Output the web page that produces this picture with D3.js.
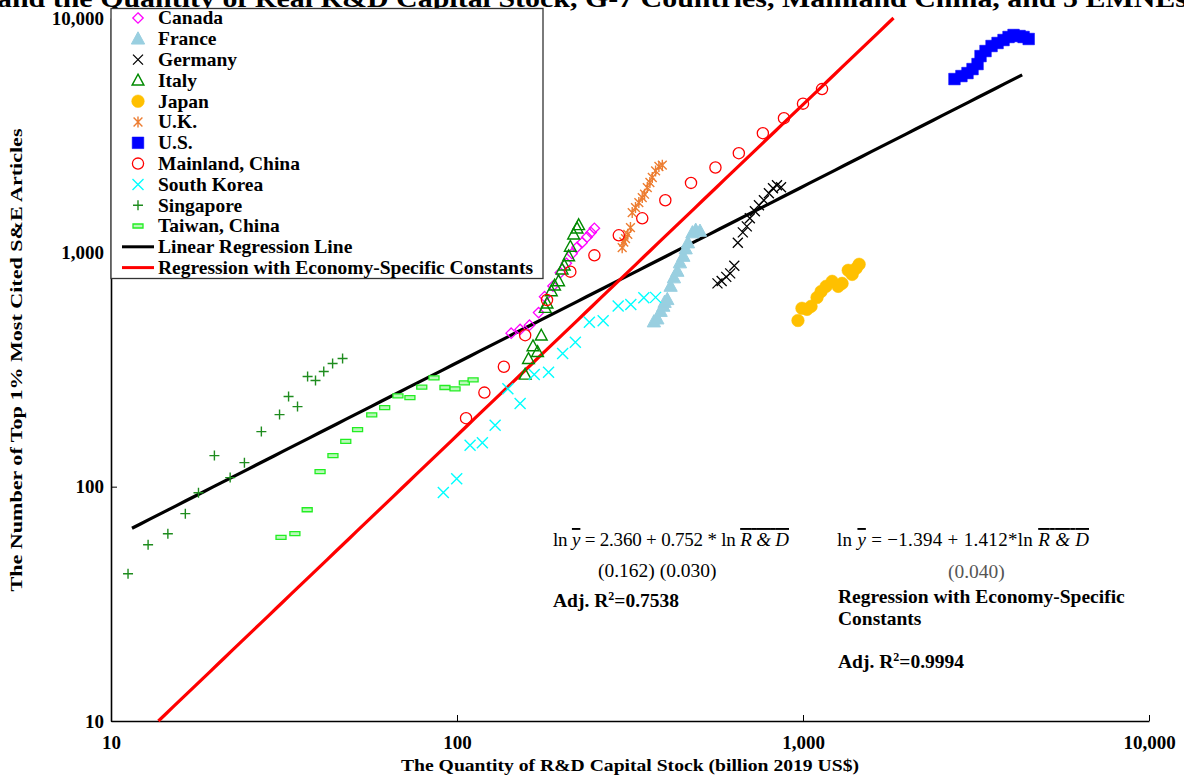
<!DOCTYPE html>
<html>
<head>
<meta charset="utf-8">
<script src="https://cdn.jsdelivr.net/npm/d3@7"></script>
<style>
  html, body { margin: 0; padding: 0; background: #fff; }
  svg { display: block; }
  text { font-family: "Liberation Serif", "Times New Roman", serif; }
</style>
</head>
<body>
<svg id="chart" width="1184" height="776"></svg>
<script>
// ---- data (R&D capital stock in billion 2019 US$, top 1% cited articles) ----
const canadaX = [143.4, 152.2, 162, 172.1, 179.1, 189.4, 198.9, 207, 215, 222.3, 229.8, 237.7, 244.1, 249.5];
const canadaY = [452, 469, 489, 553, 647, 718, 819, 898, 987, 1051, 1100, 1163, 1214, 1266];

const franceX = [370.7, 379.3, 387.7, 394.8, 398.1, 405.3, 414.3, 423.6, 433.3, 440.9, 451, 458, 465, 479, 489.7, 503.8];
const franceY = [506, 521, 561, 590, 613, 630, 718, 780, 832, 904, 964, 1037, 1100, 1214, 1245, 1233];

const germanyX = [566, 582, 600, 616, 633, 648, 670, 688, 702, 726, 746, 771, 797, 819, 841, 864];
const germanyY = [737, 754, 786, 813, 876, 1098, 1217, 1291, 1397, 1497, 1588, 1668, 1787, 1877, 1933, 1895];

const italyX = [157.4, 160.9, 165.8, 170.9, 175.2, 179.9, 182, 187.3, 191.4, 196.6, 201.2, 204.2, 210.2, 212.6, 217.3, 222.3, 224.7];
const italyY = [301, 351, 398, 376, 442, 580, 606, 683, 723, 754, 846, 880, 964, 1058, 1194, 1266, 1308];

const japanX = [967, 993, 1027, 1055, 1098, 1128, 1166, 1214, 1264, 1297, 1351, 1387, 1424, 1453];
const japanY = [512, 577, 571, 588, 642, 681, 716, 752, 716, 737, 838, 805, 854, 889];

const ukX = [300.2, 303.4, 306.9, 311.6, 317.2, 320.9, 328, 335.4, 343.1, 348.4, 354.8, 361, 366.8, 374.9, 383.3, 392.1];
const ukY = [1047, 1107, 1144, 1194, 1275, 1478, 1552, 1631, 1713, 1770, 1890, 1986, 2086, 2226, 2324, 2354];

const usX = [2740, 2870, 2988, 3090, 3195, 3259, 3369, 3507, 3650, 3798, 3927, 4060, 4226, 4340, 4490];
const usY = [5488, 5652, 5821, 6054, 6360, 6879, 7228, 7594, 7823, 8054, 8296, 8461, 8375, 8296, 8136];

const chinaX = [106.2, 120, 136.6, 157.4, 182, 212.6, 249.5, 293.5, 343.1, 400, 474.6, 558.4, 652.4, 765.6, 881, 1000, 1135];
const chinaY = [196, 252, 325, 443, 626, 827, 971, 1182, 1397, 1668, 1978, 2301, 2649, 3224, 3738, 4311, 4973];

const koreaX = [91.3, 99.8, 109.1, 118.4, 128.9, 140.3, 152.2, 167.2, 183.9, 202, 219.8, 241.3, 264.5, 292.3, 317.9, 346.7, 374.9];
const koreaY = [94.5, 108.2, 150.2, 153.8, 182.8, 261.6, 226.3, 301, 307.9, 370.2, 413.8, 503.6, 510.6, 589.6, 599.6, 640.5, 642.4];

const singaporeX = [11.2, 12.8, 14.6, 16.4, 17.9, 19.9, 22.1, 24.3, 27.2, 30.7, 32.6, 34.6, 37.0, 39.0, 41.2, 43.7, 46.7];
const singaporeY = [42.5, 56.5, 63.0, 76.7, 94.2, 135.7, 109.3, 126.6, 171.8, 203, 242.5, 219.6, 295, 283.8, 310, 335.5, 352.4];

const taiwanX = [31.0, 34.0, 36.9, 40.2, 43.8, 47.7, 51.6, 56.7, 61.8, 67.5, 73.1, 79.1, 85.8, 92.3, 98.7, 105, 111.3];
const taiwanY = [60.8, 63.0, 79.7, 115.9, 135.7, 156.2, 175.2, 202.5, 217.6, 244.2, 239.9, 265.7, 291.4, 264.9, 261.6, 277.4, 285.8];

// regression coefficients (ln y = a + b * ln R&D)
const linearFit = [2.360, 0.752];
const linearFitRange = [11.5, 4300];
const specificFit = [-1.394, 1.412];

const axisTicks = [10, 100, 1000, 10000];

const titleText = "and the Quantity of Real R&D Capital Stock, G-7 Countries, Mainland China, and 5 EMNEs";
const xTitle = "The Quantity of R&D Capital Stock (billion 2019 US$)";
const yTitle = "The Number of Top 1% Most Cited S&E Articles";

// ---- marker shapes ----
const shapes = {
  diamond: s => `M0,${-s}L${s},0L0,${s}L${-s},0Z`,
  triangle: s => `M0,${-s}L${s * 0.95},${s * 0.75}L${-s * 0.95},${s * 0.75}Z`,
  cross: s => `M${-s},${-s}L${s},${s}M${-s},${s}L${s},${-s}`,
  plus: s => `M${-s},0L${s},0M0,${-s}L0,${s}`,
  asterisk: s => { const d = s * 0.8; return `M${-d},${-d}L${d},${d}M${-d},${d}L${d},${-d}M0,${-s}L0,${s}`; },
  square: s => `M${-s},${-s}H${s}V${s}H${-s}Z`,
  circle: s => `M${s},0A${s},${s} 0 1,1 ${-s},0A${s},${s} 0 1,1 ${s},0Z`,
  bar: s => `M${-s},${-s * 0.4}H${s}V${s * 0.4}H${-s}Z`
};

const series = [
  { name: "Canada", xs: canadaX, ys: canadaY, shape: "diamond", size: 5.2, fill: "none", stroke: "#ff00ff", sw: 1.3 },
  { name: "France", xs: franceX, ys: franceY, shape: "triangle", size: 7, fill: "#99cfe0", stroke: "#99cfe0", sw: 1 },
  { name: "Germany", xs: germanyX, ys: germanyY, shape: "cross", size: 5, fill: "none", stroke: "#000", sw: 1.3 },
  { name: "Italy", xs: italyX, ys: italyY, shape: "triangle", size: 6.2, fill: "none", stroke: "#008a00", sw: 1.4 },
  { name: "Japan", xs: japanX, ys: japanY, shape: "circle", size: 6.3, fill: "#ffc000", stroke: "#ffc000", sw: 0.5 },
  { name: "U.K.", xs: ukX, ys: ukY, shape: "asterisk", size: 5.5, fill: "none", stroke: "#ed7d31", sw: 1.4 },
  { name: "U.S.", xs: usX, ys: usY, shape: "square", size: 5.8, fill: "#0000ff", stroke: "#0000ff", sw: 0.5 },
  { name: "Mainland, China", xs: chinaX, ys: chinaY, shape: "circle", size: 5.6, fill: "none", stroke: "#ff0000", sw: 1.3 },
  { name: "South Korea", xs: koreaX, ys: koreaY, shape: "cross", size: 5.5, fill: "none", stroke: "#00ffff", sw: 1.4 },
  { name: "Singapore", xs: singaporeX, ys: singaporeY, shape: "plus", size: 5, fill: "none", stroke: "#1e8c1e", sw: 1.4 },
  { name: "Taiwan, China", xs: taiwanX, ys: taiwanY, shape: "bar", size: 5, fill: "#b9f7b9", stroke: "#22ee22", sw: 1.3 }
];

const svg = d3.select("#chart");
const x = d3.scaleLog().domain([10, 10000]).range([111, 1149]);
const y = d3.scaleLog().domain([10, 10000]).range([721, 18]);
const fmt = d3.format(",");
const FS = 19;
const LFS = 19.5;

// clipped title line above the plot
svg.append("text")
  .attr("x", 592).attr("y", 7)
  .attr("text-anchor", "middle")
  .attr("font-weight", "bold").attr("font-size", 25)
  .attr("textLength", 1190).attr("lengthAdjust", "spacingAndGlyphs")
  .text(titleText);

// axes
const xAxis = d3.axisBottom(x).tickValues(axisTicks).tickFormat(fmt).tickSizeInner(-6).tickSizeOuter(0).tickPadding(15);
const yAxis = d3.axisLeft(y).tickValues(axisTicks).tickFormat(fmt).tickSizeInner(-6).tickSizeOuter(0).tickPadding(7);

const gx = svg.append("g").attr("transform", `translate(0,${y(10)})`).call(xAxis);
const gy = svg.append("g").attr("transform", `translate(${x(10)},0)`).call(yAxis);
[gx, gy].forEach(g => {
  g.select(".domain").attr("stroke", "#000").attr("stroke-width", 1.6);
  g.selectAll(".tick line").attr("stroke", "#000").attr("stroke-width", 1);
  g.selectAll(".tick text")
    .attr("font-family", "Liberation Serif, serif")
    .attr("font-weight", "bold").attr("font-size", FS).attr("fill", "#000");
});
gx.selectAll(".tick text").attr("dy", "0.71em");

svg.append("text")
  .attr("x", 630).attr("y", 771)
  .attr("text-anchor", "middle")
  .attr("font-weight", "bold").attr("font-size", 17)
  .attr("textLength", 458).attr("lengthAdjust", "spacingAndGlyphs")
  .text(xTitle);

svg.append("text")
  .attr("transform", "translate(22,360) rotate(-90)")
  .attr("text-anchor", "middle")
  .attr("font-weight", "bold").attr("font-size", 17)
  .attr("textLength", 463).attr("lengthAdjust", "spacingAndGlyphs")
  .text(yTitle);

// regression lines
const fitLine = (coef, lo, hi) => {
  const pts = d3.range(0, 101).map(i => {
    const v = Math.exp(Math.log(lo) + (Math.log(hi) - Math.log(lo)) * i / 100);
    return [v, Math.exp(coef[0] + coef[1] * Math.log(v))];
  });
  return d3.line().x(d => x(d[0])).y(d => y(d[1]))(pts);
};
const specLo = Math.exp((Math.log(10) - specificFit[0]) / specificFit[1]);
const specHi = Math.exp((Math.log(10000) - specificFit[0]) / specificFit[1]);

svg.append("path").attr("d", fitLine(linearFit, linearFitRange[0], linearFitRange[1]))
  .attr("fill", "none").attr("stroke", "#000").attr("stroke-width", 3.2);
svg.append("path").attr("d", fitLine(specificFit, specLo, specHi))
  .attr("fill", "none").attr("stroke", "#ff0000").attr("stroke-width", 3.2);

// scatter markers
series.forEach(s => {
  svg.append("g").selectAll("path")
    .data(s.xs.map((v, i) => [v, s.ys[i]]))
    .join("path")
    .attr("transform", d => `translate(${x(d[0])},${y(d[1])})`)
    .attr("d", shapes[s.shape](s.size))
    .attr("fill", s.fill).attr("stroke", s.stroke).attr("stroke-width", s.sw);
});

// legend
const lg = svg.append("g");
lg.append("rect").attr("x", 111).attr("y", 8.5).attr("width", 432).attr("height", 270)
  .attr("fill", "#fff").attr("stroke", "#333").attr("stroke-width", 1.3);
const rowH = 20.8, row0 = 18;
series.forEach((s, i) => {
  const ry = row0 + i * rowH;
  lg.append("path").attr("transform", `translate(138,${ry})`)
    .attr("d", shapes[s.shape](s.size))
    .attr("fill", s.fill).attr("stroke", s.stroke).attr("stroke-width", s.sw);
  lg.append("text").attr("x", 158).attr("y", ry).attr("dy", "0.33em")
    .attr("font-weight", "bold").attr("font-size", LFS).text(s.name);
});
const lineRows = [["Linear Regression Line", "#000"], ["Regression with Economy-Specific Constants", "#ff0000"]];
lineRows.forEach((r, j) => {
  const ry = row0 + (series.length + j) * rowH;
  lg.append("line").attr("x1", 122).attr("x2", 154).attr("y1", ry).attr("y2", ry)
    .attr("stroke", r[1]).attr("stroke-width", 3);
  lg.append("text").attr("x", 158).attr("y", ry).attr("dy", "0.33em")
    .attr("font-weight", "bold").attr("font-size", LFS).text(r[0]);
});

// equation annotations
function equation(x0, y0, len, parts) {
  const t = svg.append("text").attr("x", x0).attr("y", y0).attr("font-size", 19)
    .attr("textLength", len).attr("lengthAdjust", "spacing");
  parts.forEach(p => {
    const ts = t.append("tspan").text(p.t);
    if (p.i) ts.attr("font-style", "italic");
    if (p.o) ts.style("text-decoration", "overline");
  });
  return t;
}
function adjR2(x0, y0, val) {
  const t = svg.append("text").attr("x", x0).attr("y", y0).attr("font-size", LFS).attr("font-weight", "bold");
  t.append("tspan").text("Adj. R");
  t.append("tspan").attr("font-size", 12).attr("dy", -7).text("2");
  t.append("tspan").attr("dy", 7).text("=" + val);
}
equation(553, 546, 236, [
  { t: "ln " }, { t: "y", i: true, o: true }, { t: " = 2.360 + 0.752 * ln " }, { t: "R & D", i: true, o: true }
]);
svg.append("text").attr("x", 598).attr("y", 577).attr("font-size", 19.5).text("(0.162) (0.030)");
adjR2(553, 607, "0.7538");

equation(837, 546, 252, [
  { t: "ln " }, { t: "y", i: true, o: true }, { t: " = \u22121.394 + 1.412*ln " }, { t: "R & D", i: true, o: true }
]);
svg.append("text").attr("x", 948).attr("y", 578).attr("font-size", 19.5).attr("fill", "#555").text("(0.040)");
svg.append("text").attr("x", 838).attr("y", 603).attr("font-size", LFS).attr("font-weight", "bold")
  .text("Regression with Economy-Specific");
svg.append("text").attr("x", 838).attr("y", 625).attr("font-size", LFS).attr("font-weight", "bold")
  .text("Constants");
adjR2(838, 668, "0.9994");
</script>
</body>
</html>
